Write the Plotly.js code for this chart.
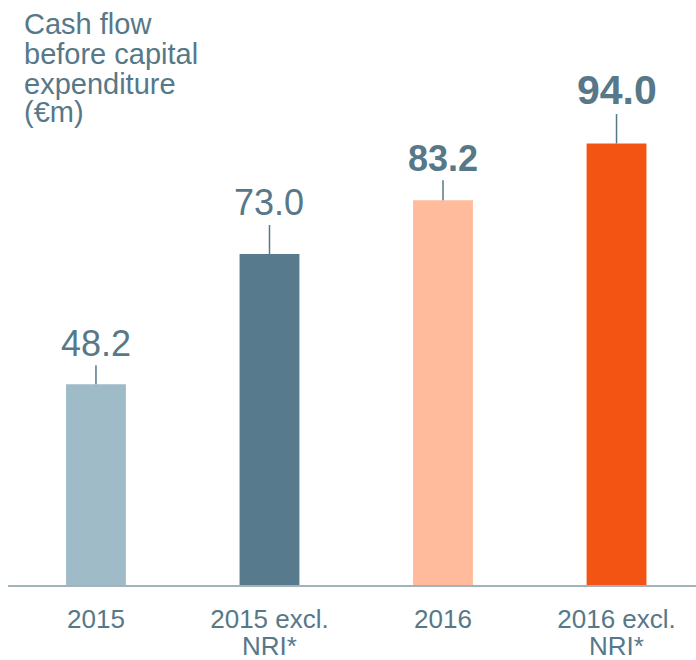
<!DOCTYPE html>
<html>
<head>
<meta charset="utf-8">
<script src="https://cdn.plot.ly/plotly-3.0.1.min.js"></script>
<style>html,body{margin:0;padding:0;background:#fff;}#chart{width:696px;height:660px;}</style>
</head>
<body>
<div id="chart"></div>
<script>
// ---- data ----
const categories = ['2015', '2015 excl. NRI*', '2016', '2016 excl. NRI*'];
const values = [48.2, 73.0, 83.2, 94.0];
const valueLabels = ['48.2', '73.0', '83.2', '94.0'];
const tickLine1 = ['2015', '2015 excl.', '2016', '2016 excl.'];
const tickLine2 = ['', 'NRI*', '', 'NRI*'];
const titleLines = ['Cash flow', 'before capital', 'expenditure', '(€m)'];

// ---- styles ----
const barColors = ['#a0bbc8', '#577a8c', '#ffbb9b', '#f45413'];
const textColor = '#567888';
const font = '"Liberation Sans", Arial, sans-serif';
const axisMin = 10;
const labelStyle = [
  {size: 36, bold: false, ay: -41},
  {size: 36, bold: false, ay: -51},
  {size: 36, bold: true, ay: -42},
  {size: 41, bold: true, ay: -54}
];
const titleY = [1.186, 1.123, 1.059, 1.0];

const xIdx = categories.map((c, i) => i);

const trace = {
  type: 'bar',
  x: xIdx,
  y: values.map(v => v - axisMin),
  base: axisMin,
  width: 0.345,
  marker: {color: barColors, line: {width: 0}},
  hoverinfo: 'skip'
};

const annotations = [];
values.forEach((v, i) => {
  const st = labelStyle[i];
  annotations.push({
    x: i, y: v, xref: 'x', yref: 'y',
    text: st.bold ? '<b>' + valueLabels[i] + '</b>' : valueLabels[i],
    showarrow: true, arrowhead: 0, arrowwidth: 1.5, arrowcolor: textColor,
    ax: 0, ay: st.ay, standoff: 0,
    font: {family: font, size: st.size, color: textColor}
  });
  if (tickLine2[i]) {
    annotations.push({
      x: i, y: -0.129, xref: 'x', yref: 'paper',
      text: tickLine2[i], showarrow: false, yanchor: 'middle',
      font: {family: font, size: 26, color: textColor}
    });
  }
});
titleLines.forEach((t, k) => {
  annotations.push({
    x: 0.02, y: titleY[k], xref: 'paper', yref: 'paper',
    xanchor: 'left', yanchor: 'middle', showarrow: false,
    text: t, font: {family: font, size: 29, color: textColor}
  });
});

const layout = {
  width: 696, height: 660,
  margin: {l: 8, r: 0, t: 112, b: 75},
  paper_bgcolor: '#ffffff', plot_bgcolor: '#ffffff',
  showlegend: false,
  font: {family: font, color: textColor},
  xaxis: {
    range: [-0.507, 3.458],
    tickmode: 'array', tickvals: xIdx, ticktext: tickLine1,
    tickfont: {family: font, size: 26, color: textColor},
    ticklabelstandoff: 10,
    showgrid: false, zeroline: false,
    showline: true, linecolor: '#a3b3bc', linewidth: 2,
    ticks: '', fixedrange: true
  },
  yaxis: {
    range: [axisMin, 100], visible: false, showgrid: false, zeroline: false, fixedrange: true
  },
  annotations: annotations
};

Plotly.newPlot('chart', [trace], layout, {displayModeBar: false, staticPlot: true});
</script>
</body>
</html>
